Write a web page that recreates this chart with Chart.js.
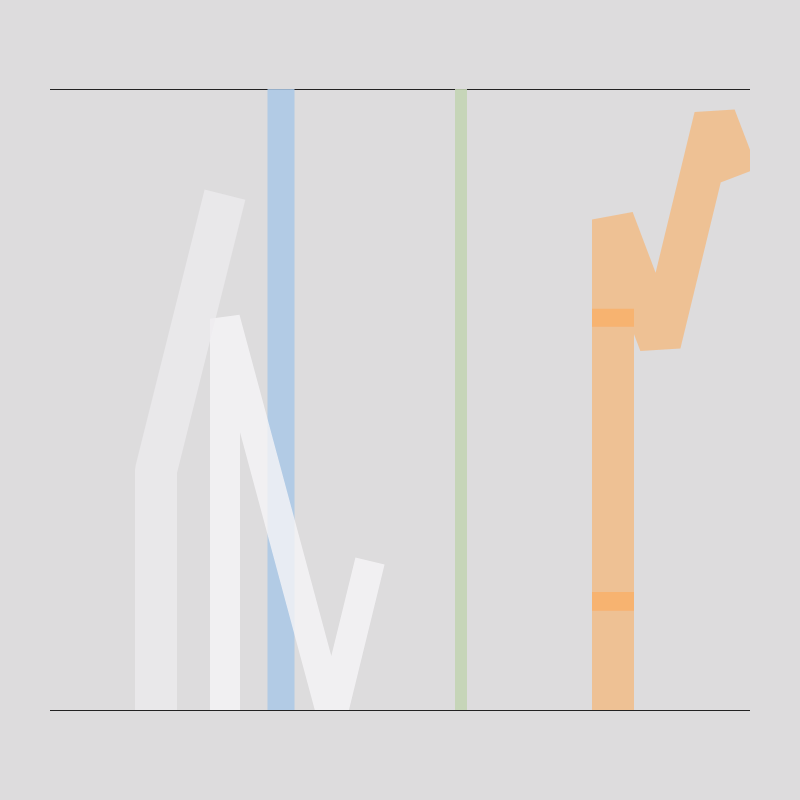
<!DOCTYPE html>
<html>
<head>
<meta charset="utf-8">
<script src="https://cdn.jsdelivr.net/npm/chart.js@4"></script>
<style>
  html, body { margin: 0; padding: 0; background: #dddcdd; }
  #wrap { width: 800px; height: 800px; }
</style>
</head>
<body>
<div id="wrap"><canvas id="grafico"></canvas></div>
<script>
// datos (x: 0-14, y: 0-10)
const blancoA = [{x: 2.12, y: 0}, {x: 2.12, y: 3.86}, {x: 3.5, y: 8.3}];
const blancoB = [{x: 3.5, y: 0}, {x: 3.5, y: 6.3}, {x: 5.64, y: -0.1}, {x: 6.4, y: 2.4}];
const azul = [{x: 4.62, y: 0}, {x: 4.62, y: 10}];
const verde = [{x: 8.22, y: 0}, {x: 8.22, y: 10}];
const naranja = [{x: 11.26, y: 0}, {x: 11.26, y: 7.9}, {x: 12.2, y: 5.9}, {x: 13.3, y: 9.55}, {x: 13.75, y: 8.6}];
const naranjaBandas = [{x: 11.26, y: 6.17}, {x: 11.26, y: 6.46}, {x: 11.26, y: null}, {x: 11.26, y: 1.6}, {x: 11.26, y: 1.9}];
const limitesY = [0, 10];

function serie(data, color, ancho) {
    return {
        data: data,
        showLine: true,
        borderColor: color,
        borderWidth: ancho,
        borderJoinStyle: 'bevel',
        borderCapStyle: 'butt',
        pointRadius: 0,
        spanGaps: false,
        tension: 0
    };
}

new Chart(document.getElementById('grafico'), {
    type: 'scatter',
    data: {
        datasets: [
            serie(blancoA, 'rgba(238, 237, 239, 0.7)', 42),
            serie(blancoB, 'rgba(246, 245, 247, 0.8)', 30),
            serie(azul, 'rgba(170, 200, 230, 0.85)', 27),
            serie(verde, 'rgba(195, 212, 180, 0.9)', 12),
            serie(naranja, 'rgba(250, 175, 100, 0.6)', 42),
            serie(naranjaBandas, 'rgba(255, 160, 70, 0.6)', 42)
        ]
    },
    options: {
        responsive: true,
        maintainAspectRatio: false,
        animation: false,
        layout: { padding: { left: 50, right: 50, top: 89, bottom: 90 } },
        plugins: { legend: { display: false }, tooltip: { enabled: false } },
        scales: {
            x: { type: 'linear', min: 0, max: 14, display: false },
            y: {
                min: limitesY[0],
                max: limitesY[1],
                ticks: { display: false, stepSize: 10 },
                border: { display: false },
                grid: {
                    drawTicks: false,
                    lineWidth: 1,
                    color: ctx => limitesY.includes(ctx.tick.value) ? '#222222' : 'rgba(0,0,0,0)'
                }
            }
        }
    }
});
</script>
</body>
</html>
